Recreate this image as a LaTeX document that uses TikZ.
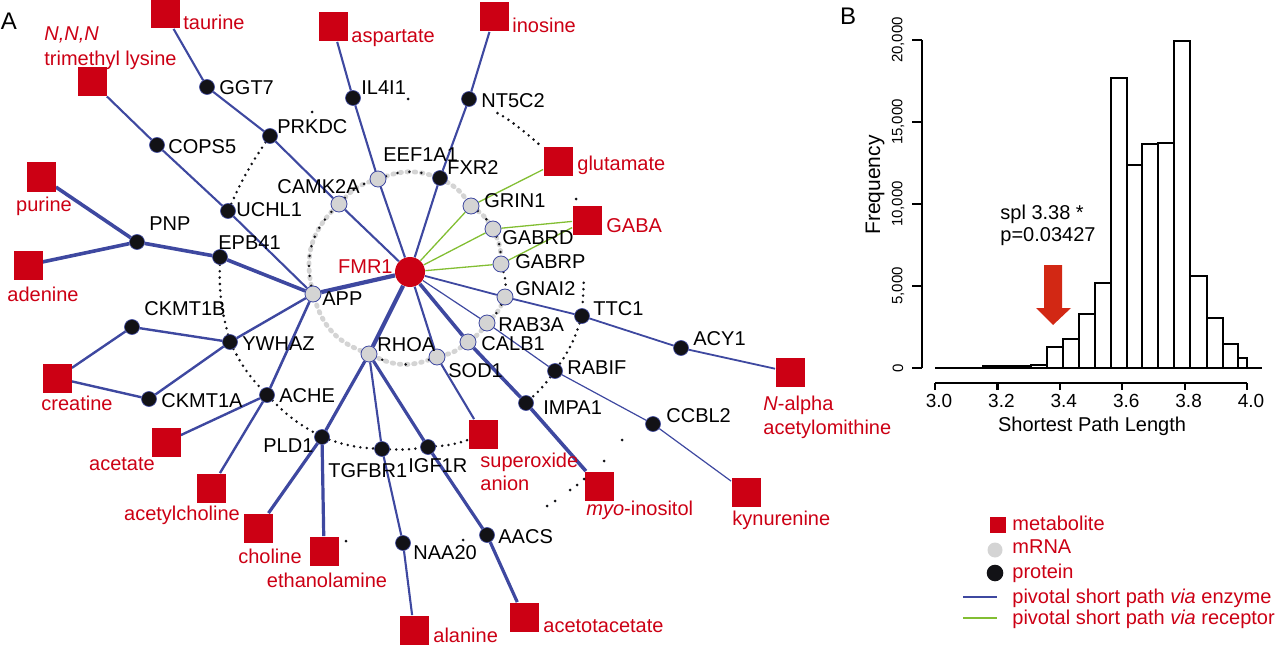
\documentclass[tikz,border=0pt]{standalone}
\usepackage{fontspec}
\setmainfont{Liberation Sans}
\usetikzlibrary{backgrounds}
\definecolor{metred}{RGB}{204,0,20}
\definecolor{eblue}{RGB}{62,72,160}
\definecolor{egreen}{RGB}{130,190,50}
\definecolor{mgray}{RGB}{212,212,212}
\definecolor{pblack}{RGB}{18,18,22}
\definecolor{arrowred}{RGB}{210,40,20}
\begin{document}
\begin{tikzpicture}[x=0.5pt,y=-0.5pt,
  met/.style={rectangle,fill=metred,minimum size=14.5pt,inner sep=0pt},
  mrna/.style={circle,fill=mgray,draw=eblue,line width=0.4pt,minimum size=8pt,inner sep=0pt},
  prot/.style={circle,fill=pblack,draw=eblue,line width=0.3pt,minimum size=7.5pt,inner sep=0pt},
  fmr/.style={circle,fill=metred,minimum size=15pt,inner sep=0pt},
  lab/.style={inner sep=0pt,anchor=west,text height=7.2pt,text depth=0pt,font=\fontsize{10}{12}\selectfont,text=black},
  mlab/.style={lab,text=metred},
  ethick/.style={draw=eblue,line width=1.8pt},
  emed/.style={draw=eblue,line width=1.05pt},
  ethin/.style={draw=eblue,line width=0.6pt},
  erec/.style={draw=egreen,line width=0.65pt},
  pdot/.style={draw=pblack,line width=1.4pt,line cap=round,dash pattern=on 0pt off 3.2pt},
  gdot/.style={draw=mgray,line width=2.4pt,line cap=round,dash pattern=on 0.8pt off 2.8pt},
  axis/.style={draw=black,line width=1.1pt},
  bar/.style={draw=black,line width=1.1pt,fill=white}
]
\useasboundingbox (0,0) rectangle (1280,647);

% ---------- panel letters
\node[inner sep=0pt,font=\fontsize{12}{14}\selectfont] (pA) at (9,21) {A};
\node[inner sep=0pt,font=\fontsize{12}{14}\selectfont] (pB) at (848,16) {B};

% ---------- center
\node[fmr] (FMR1) at (410,272) {};
\node[mlab,anchor=east] (lFMR1) at (393,266) {FMR1};

% ---------- mRNA
\node[mrna] (CAMK2A) at (339,204) {};
\node[mrna] (EEF1A1) at (378,179) {};
\node[mrna] (GRIN1) at (471,206) {};
\node[mrna] (GABRD) at (493,229) {};
\node[mrna] (GABRP) at (501,264) {};
\node[mrna] (GNAI2) at (505,297) {};
\node[mrna] (RAB3A) at (487,323) {};
\node[mrna] (CALB1) at (468,342) {};
\node[mrna] (SOD1) at (437,357) {};
\node[mrna] (RHOA) at (369,354) {};
\node[mrna] (APP) at (313,294) {};

% ---------- proteins
\node[prot] (GGT7) at (207,87) {};
\node[prot] (PRKDC) at (270,136) {};
\node[prot] (COPS5) at (157,145) {};
\node[prot] (UCHL1) at (228,211) {};
\node[prot] (IL4I1) at (353,98) {};
\node[prot] (NT5C2) at (469,99) {};
\node[prot] (FXR2) at (440,178) {};
\node[prot] (PNP) at (137,242) {};
\node[prot] (EPB41) at (220,257) {};
\node[prot] (CKMT1B) at (132,327) {};
\node[prot] (YWHAZ) at (230,342) {};
\node[prot] (CKMT1A) at (149,399) {};
\node[prot] (ACHE) at (267,395) {};
\node[prot] (PLD1) at (322,437) {};
\node[prot] (TGFBR1) at (382,449) {};
\node[prot] (IGF1R) at (428,447) {};
\node[prot] (NAA20) at (403,543) {};
\node[prot] (AACS) at (487,535) {};
\node[prot] (TTC1) at (582,316) {};
\node[prot] (RABIF) at (555,371) {};
\node[prot] (IMPA1) at (526,403) {};
\node[prot] (CCBL2) at (653,424) {};
\node[prot] (ACY1) at (681,348) {};

% ---------- metabolites
\node[met] (taurine) at (165,14) {};
\node[met] (tml) at (92,82) {};
\node[met] (purine) at (41,177) {};
\node[met] (adenine) at (28,265) {};
\node[met] (creatine) at (57,378) {};
\node[met] (acetate) at (166,442) {};
\node[met] (acetylcholine) at (211,488) {};
\node[met] (choline) at (258,528) {};
\node[met] (ethanolamine) at (324,551) {};
\node[met] (aspartate) at (333,27) {};
\node[met] (inosine) at (494,17) {};
\node[met] (glutamate) at (558,162) {};
\node[met] (GABA) at (587,220) {};
\node[met] (superoxide) at (483,434) {};
\node[met] (myo) at (599,486) {};
\node[met] (kynurenine) at (746,492) {};
\node[met] (acetoacetate) at (524,617) {};
\node[met] (alanine) at (414,630) {};
\node[met] (nalpha) at (790,372) {};

% ---------- protein / mRNA labels
\node[lab] (lGGT7) at (219,87) {GGT7};
\node[lab] (lPRKDC) at (277,126) {PRKDC};
\node[lab] (lCOPS5) at (168,146) {COPS5};
\node[lab] (lUCHL1) at (236,209) {UCHL1};
\node[lab] (lIL4I1) at (361,87) {IL4I1};
\node[lab] (lNT5C2) at (481,100) {NT5C2};
\node[lab] (lEEF1A1) at (383,154) {EEF1A1};
\node[lab] (lFXR2) at (447,167) {FXR2};
\node[lab] (lCAMK2A) at (277,186) {CAMK2A};
\node[lab] (lGRIN1) at (484,200) {GRIN1};
\node[lab] (lGABRD) at (502,237) {GABRD};
\node[lab] (lGABRP) at (515,261) {GABRP};
\node[lab] (lGNAI2) at (515,288) {GNAI2};
\node[lab] (lTTC1) at (593,308) {TTC1};
\node[lab] (lRAB3A) at (498,324) {RAB3A};
\node[lab] (lCALB1) at (481,343) {CALB1};
\node[lab] (lRHOA) at (377,344) {RHOA};
\node[lab] (lSOD1) at (448,370) {SOD1};
\node[lab] (lRABIF) at (567,367) {RABIF};
\node[lab] (lIMPA1) at (543,407) {IMPA1};
\node[lab] (lAPP) at (322,298) {APP};
\node[lab] (lPNP) at (149,223) {PNP};
\node[lab] (lEPB41) at (218,242) {EPB41};
\node[lab] (lCKMT1B) at (144,308) {CKMT1B};
\node[lab] (lYWHAZ) at (242,343) {YWHAZ};
\node[lab] (lCKMT1A) at (161,400) {CKMT1A};
\node[lab] (lACHE) at (279,395) {ACHE};
\node[lab] (lPLD1) at (263,445) {PLD1};
\node[lab] (lTGFBR1) at (328,470) {TGFBR1};
\node[lab] (lIGF1R) at (408,465) {IGF1R};
\node[lab] (lNAA20) at (413,552) {NAA20};
\node[lab] (lAACS) at (498,536) {AACS};
\node[lab] (lCCBL2) at (666,415) {CCBL2};
\node[lab] (lACY1) at (693,338) {ACY1};

% ---------- metabolite labels
\node[mlab] (ltaurine) at (183,22) {taurine};
\node[mlab] (ltml1) at (44,33) {\textit{N,N,N}};
\node[mlab] (ltml2) at (44,58) {trimethyl lysine};
\node[mlab,anchor=center] (lpurine) at (44,204) {purine};
\node[mlab,anchor=center] (ladenine) at (43,294) {adenine};
\node[mlab,anchor=center] (lcreatine) at (77,403) {creatine};
\node[mlab,anchor=center] (lacetate) at (122,463) {acetate};
\node[mlab,anchor=center] (lacetylcholine) at (182,513) {acetylcholine};
\node[mlab,anchor=center] (lcholine) at (270,556) {choline};
\node[mlab,anchor=center] (lethanolamine) at (327,580) {ethanolamine};
\node[mlab] (laspartate) at (351,35) {aspartate};
\node[mlab] (linosine) at (512,25) {inosine};
\node[mlab] (lglutamate) at (577,163) {glutamate};
\node[mlab] (lGABA) at (606,225) {GABA};
\node[mlab] (lsuper1) at (480,460) {superoxide};
\node[mlab] (lsuper2) at (480,483) {anion};
\node[mlab] (lmyo) at (586,508) {\textit{myo}-inositol};
\node[mlab] (lkyn) at (732,518) {kynurenine};
\node[mlab] (lacetoacetate) at (543,625) {acetotacetate};
\node[mlab] (lalanine) at (433,635) {alanine};
\node[mlab] (lnalpha1) at (763,403) {\textit{N}-alpha};
\node[mlab] (lnalpha2) at (763,427) {acetylomithine};

% ---------- connectors (behind nodes)
\begin{scope}[on background layer]
% inner ring
\draw[gdot] (APP) to[bend left=28] (CAMK2A);
\draw[gdot] (CAMK2A) to[bend left=14] (EEF1A1);
\draw[gdot] (EEF1A1) to[bend left=18] (FXR2);
\draw[gdot] (FXR2) to[bend left=12] (GRIN1);
\draw[gdot] (GRIN1) to[bend left=10] (GABRD);
\draw[gdot] (GABRD) to[bend left=11] (GABRP);
\draw[gdot] (GNAI2) to[bend left=10] (RAB3A);
\draw[gdot] (RAB3A) to[bend left=8] (CALB1);
\draw[gdot] (CALB1) to[bend left=11] (SOD1);
\draw[gdot] (SOD1) to[bend left=22] (RHOA);
\draw[gdot] (RHOA) to[bend left=25] (APP);
\draw[pdot,dash pattern=on 0pt off 5pt] (APP) to[bend left=28] (CAMK2A);
\draw[pdot,dash pattern=on 0pt off 6pt] (CAMK2A) to[bend left=14] (EEF1A1);
\draw[pdot,dash pattern=on 0pt off 6pt] (EEF1A1) to[bend left=18] (FXR2);
\draw[pdot,dash pattern=on 0pt off 6pt] (GRIN1) to[bend left=10] (GABRD);
\draw[pdot,dash pattern=on 0pt off 4pt] (GABRD) to[bend left=11] (GABRP);
\draw[pdot] (GABRP) to[bend left=10] (GNAI2);
\draw[pdot,dash pattern=on 0pt off 5pt] (GNAI2) to[bend left=10] (RAB3A);
\draw[pdot,dash pattern=on 0pt off 12pt] (SOD1) to[bend left=22] (RHOA);
% outer protein interactions
\draw[pdot] (PRKDC) to[bend right=5] (UCHL1);
\draw[pdot] (EPB41) to[bend right=8] (YWHAZ);
\draw[pdot] (YWHAZ) to[bend right=8] (ACHE);
\draw[pdot] (ACHE) to[bend right=8] (PLD1);
\draw[pdot] (PLD1) to[bend right=8] (TGFBR1);
\draw[pdot] (TGFBR1) to[bend right=5] (IGF1R);
\draw[pdot] (IGF1R) to[bend right=8] (superoxide);
\draw[pdot,shorten <=12pt] (NT5C2) to[bend left=8] (glutamate);
\draw[pdot,shorten <=24pt] (GABA) -- (TTC1);
\draw[pdot] (TTC1) to[bend left=8] (RABIF);
\draw[pdot] (RABIF) to[bend left=5] (IMPA1);
% enzyme paths
\draw[emed] (taurine) -- (GGT7) -- (PRKDC) -- (CAMK2A) -- (FMR1);
\draw[emed] (tml) -- (COPS5) -- (UCHL1) -- (APP);
\draw[ethick] (purine) -- (PNP);
\draw[ethick] (adenine) -- (PNP);
\draw[ethick] (PNP) -- (EPB41) -- (APP);
\draw[line width=2.1pt,draw=eblue] (APP) -- (FMR1);
\draw[emed,line width=1.2pt] (creatine) -- (CKMT1B) -- (YWHAZ);
\draw[emed,line width=1.2pt] (creatine) -- (CKMT1A) -- (YWHAZ);
\draw[emed,line width=1.2pt] (YWHAZ) -- (APP);
\draw[emed,line width=1.3pt] (ACHE) -- (APP);
\draw[emed,line width=1.2pt] (acetate) -- (ACHE);
\draw[emed,line width=1.2pt] (acetylcholine) -- (ACHE);
\draw[ethick,line width=1.6pt] (choline) -- (PLD1);
\draw[ethick,line width=1.6pt] (ethanolamine) -- (PLD1);
\draw[ethick,line width=1.6pt] (PLD1) -- (RHOA);
\draw[line width=2.1pt,draw=eblue] (RHOA) -- (FMR1);
\draw[emed] (alanine) -- (NAA20) -- (TGFBR1) -- (RHOA);
\draw[ethick,line width=1.6pt] (acetoacetate) -- (AACS) -- (IGF1R) -- (RHOA);
\draw[emed] (superoxide) -- (SOD1) -- (FMR1);
\draw[ethick] (myo) -- (IMPA1) -- (CALB1) -- (FMR1);
\draw[ethin] (kynurenine) -- (CCBL2) -- (RABIF) -- (RAB3A) -- (FMR1);
\draw[emed,line width=0.9pt] (nalpha) -- (ACY1) -- (TTC1) -- (GNAI2) -- (FMR1);
\draw[emed] (aspartate) -- (IL4I1) -- (EEF1A1) -- (FMR1);
\draw[emed] (inosine) -- (NT5C2) -- (FXR2) -- (FMR1);
% receptor paths
\draw[erec] (glutamate) -- (GRIN1) -- (FMR1);
\draw[erec] (GABA) -- (GABRD) -- (FMR1);
\draw[erec] (GABA) -- (GABRP) -- (FMR1);
\end{scope}

% isolated interaction dots
\foreach \p in {(312,112),(408,99),(576,199),(463,540),(346,541),(622,440),(604,461),(584,479),(577,485),(570,490),(555,501),(547,506)}
  \fill[pblack] \p circle (0.75pt);

% ---------- panel B histogram
\draw[axis] (922,40) -- (922,368);
\foreach \yy in {40,122,204,286,368} \draw[axis] (912,\yy) -- (922,\yy);
\node[rotate=90,inner sep=0pt,font=\fontsize{7.5}{9}\selectfont] (ty0) at (898,368) {0};
\node[rotate=90,inner sep=0pt,font=\fontsize{7.5}{9}\selectfont] (ty1) at (898,286) {5,000};
\node[rotate=90,inner sep=0pt,font=\fontsize{7.5}{9}\selectfont] (ty2) at (898,204) {10,000};
\node[rotate=90,inner sep=0pt,font=\fontsize{7.5}{9}\selectfont] (ty3) at (898,122) {15,000};
\node[rotate=90,inner sep=0pt,font=\fontsize{7.5}{9}\selectfont] (ty4) at (898,40) {20,000};
\node[rotate=90,inner sep=0pt,font=\fontsize{10.5}{12}\selectfont] (fq) at (875,185) {Frequency};

\draw[axis] (935,383) -- (1247,383);
\foreach \xx/\tl in {935/3.0,997.4/3.2,1059.8/3.4,1122.2/3.6,1184.6/3.8,1247/4.0}{
  \draw[axis] (\xx,383) -- (\xx,390);
  \node[inner sep=0pt,font=\fontsize{9.5}{11}\selectfont] at (\xx+4,401) {\tl};
}
\node[inner sep=0pt,font=\fontsize{10}{12}\selectfont] (xl) at (1092,426) {Shortest Path Length};

\draw[axis] (935,368) -- (1262,368);
\foreach \xa/\xb/\yt in {983/1015/366.5,1015/1031/366,1031/1047/365,1047/1063/346.7,1063/1079/339.3,1079/1095/314.3,1095/1111/283.3,1111/1127/77.7,1127/1142/165,1142/1158/144.3,1158/1174/143.3,1174/1190/40.7,1190/1207/276,1207/1223/318.3,1223/1238/344.3,1238/1247/357.7}
  \draw[bar] (\xa,368) rectangle (\xb,\yt);

\fill[arrowred] (1044,265) -- (1062,265) -- (1062,308) -- (1071,308) -- (1053,325) -- (1036,308) -- (1044,308) -- cycle;
\node[lab,anchor=west] (spl1) at (1000,212) {spl 3.38 *};
\node[lab,anchor=west] (spl2) at (1000,234) {p=0.03427};

% ---------- legend
\node[met,minimum size=8pt] (legmet) at (997.5,525) {};
\node[circle,fill=mgray,minimum size=7.5pt,inner sep=0pt] (legmrna) at (995,550) {};
\node[circle,fill=pblack,minimum size=8.3pt,inner sep=0pt] (legprot) at (995,573) {};
\coordinate (le1) at (963,597); \coordinate (le2) at (997,597);
\coordinate (lr1) at (963,618); \coordinate (lr2) at (997,618);
\draw[emed,line width=1.3pt] (le1) -- (le2);
\draw[erec] (lr1) -- (lr2);
\node[mlab] (tmet) at (1012,523) {metabolite};
\node[mlab] (tmrna) at (1012,546) {mRNA};
\node[mlab] (tprot) at (1012,571) {protein};
\node[mlab] (tenz) at (1012,596) {pivotal short path \textit{via} enzyme};
\node[mlab] (trec) at (1012,617) {pivotal short path \textit{via} receptor};
\end{tikzpicture}
\end{document}
